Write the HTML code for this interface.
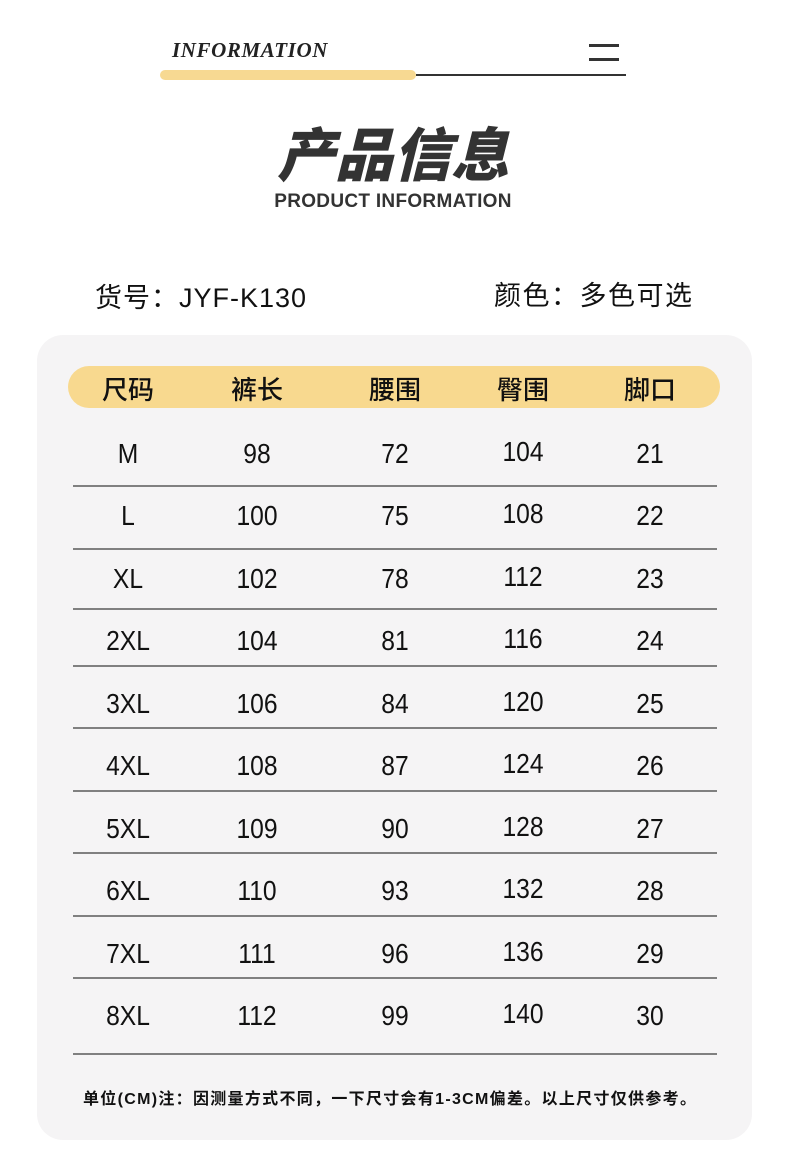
<!DOCTYPE html>
<html><head><meta charset="utf-8"><style>
body{margin:0;width:792px;height:1165px;background:#fff;position:relative;overflow:hidden;font-family:"Liberation Sans","Noto Sans CJK SC",sans-serif;color:#111}
.a{position:absolute}
.card{left:37px;top:335px;width:715px;height:805px;background:#f5f4f5;border-radius:26px}
.hdr{left:68px;top:366px;width:652px;height:42px;background:#f8d98f;border-radius:21px}
.c{position:absolute;transform:translateX(-50%);white-space:nowrap}
.h{font-size:26px;top:370px;font-weight:500;font-family:"Noto Sans CJK SC",sans-serif;line-height:38px}
.n{font-size:28px;transform:translateX(-50%) scaleX(0.88)}
.ln{left:73px;width:644px;height:2px;background:#808080}
</style></head><body>
<div class="a" style="left:172px;top:38px;font-family:'Liberation Serif',serif;font-style:italic;font-weight:bold;font-size:21px;letter-spacing:0.6px;color:#222">INFORMATION</div>
<div class="a" style="left:589px;top:44px;width:30px;height:3px;background:#333"></div>
<div class="a" style="left:589px;top:58px;width:30px;height:3px;background:#333"></div>
<div class="a" style="left:160px;top:70px;width:256px;height:10px;background:#f7d992;border-radius:5px"></div>
<div class="a" style="left:416px;top:74px;width:210px;height:2px;background:#333"></div>
<div class="c" style="left:393px;top:116px;font-size:58px;font-weight:900;font-style:italic;color:#333;font-family:'Noto Sans CJK SC',sans-serif;line-height:70px">产品信息</div>
<div class="c" style="left:393px;top:191px;font-size:19px;font-weight:bold;color:#333;letter-spacing:0.3px">PRODUCT INFORMATION</div>
<div class="a" style="left:95px;top:276px;font-size:27px;letter-spacing:1px;color:#111">货号：JYF-K130</div>
<div class="a" style="left:494px;top:274px;font-size:27px;letter-spacing:1.5px;color:#111">颜色：多色可选</div>
<div class="a card"></div>
<div class="a hdr"></div>
<div class="c h" style="left:128px">尺码</div>
<div class="c h" style="left:257px">裤长</div>
<div class="c h" style="left:395px">腰围</div>
<div class="c h" style="left:523px">臀围</div>
<div class="c h" style="left:650px">脚口</div>
<div id="rows"></div>
<script>
var d=[["M",98,72,104,21],["L",100,75,108,22],["XL",102,78,112,23],["2XL",104,81,116,24],["3XL",106,84,120,25],["4XL",108,87,124,26],["5XL",109,90,128,27],["6XL",110,93,132,28],["7XL",111,96,136,29],["8XL",112,99,140,30]];
var ys=[454,516,579,641,704,766,829,891,954,1016],ls=[486,549,609,666,728,791,853,916,978,1054],xs=[128,257,395,523,650],h="";
d.forEach(function(r,i){r.forEach(function(v,j){h+='<div class="c n" style="left:'+xs[j]+'px;top:'+(ys[i]-16-(j==3?2:0))+'px">'+v+'</div>'});h+='<div class="a ln" style="top:'+(ls[i]-1)+'px"></div>'});
document.getElementById("rows").innerHTML=h;
</script>
<div class="a" style="left:83px;top:1085px;font-size:16px;letter-spacing:1.3px;font-weight:bold;color:#111">单位(CM)注：因测量方式不同，一下尺寸会有1-3CM偏差。以上尺寸仅供参考。</div>
</body></html>
